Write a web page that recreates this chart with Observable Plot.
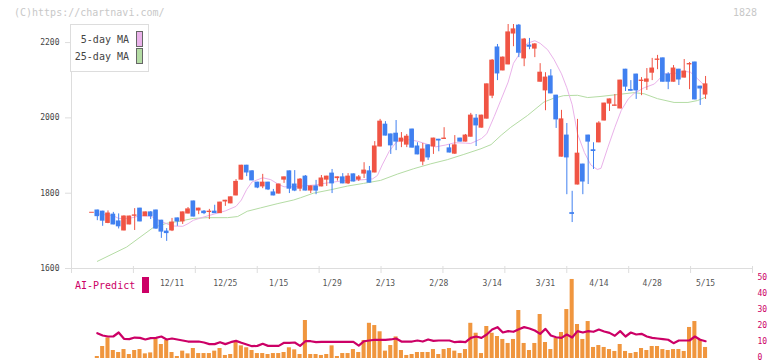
<!DOCTYPE html>
<html><head><meta charset="utf-8">
<script src="https://cdn.jsdelivr.net/npm/d3@7"></script>
<script src="https://cdn.jsdelivr.net/npm/@observablehq/plot@0.6"></script>
<style>
body{margin:0;background:#fff;}
#wrap{position:relative;width:772px;height:361px;overflow:hidden;font-family:"DejaVu Sans Mono",monospace;}
.abs{position:absolute;white-space:nowrap;}
</style></head><body><div id="wrap"></div>
<script>
// ---- data ----
const candleOpen  = [1748,1754,1751,1721,1743,1725,1701,1717,1740,1759,1739,1749,1754,1727,1698,1701,1733,1725,1746,1778,1754,1751,1750,1751,1747,1778,1773,1794,1836,1873,1858,1828,1818,1828,1802,1799,1836,1858,1823,1812,1844,1807,1818,1818,1836,1852,1840,1842,1826,1850,1836,1852,1858,1855,1924,1982,1956,1958,1937,1929,1969,1924,1884,1927,1924,1942,1944,1919,1905,1945,1937,1950,1998,1974,1998,2059,2187,2126,2142,2224,2245,2158,2192,2184,2096,2073,2110,2059,1897,1953,1747,1823,1876,1953,1914,1935,1993,2038,2032,2025,2128,2074,2115,2098,2096,2120,2154,2158,2115,2096,2128,2107,2142,2147,2083,2062];
const candleHigh  = [1748,1755,1752,1753,1749,1745,1740,1739,1759,1760,1750,1751,1755,1728,1706,1733,1734,1750,1762,1779,1760,1754,1757,1768,1776,1781,1790,1836,1874,1874,1860,1829,1850,1829,1810,1824,1843,1859,1860,1839,1847,1819,1834,1847,1845,1863,1843,1852,1852,1851,1847,1881,1871,1937,1996,1990,1957,1993,1961,1956,1970,1934,1932,1928,1946,1943,1974,1929,1953,1946,1956,2012,2009,2007,2090,2155,2195,2162,2248,2248,2248,2211,2211,2197,2144,2120,2128,2060,2020,1985,1805,1996,1877,1954,1934,1990,2039,2050,2062,2100,2129,2099,2116,2107,2131,2158,2166,2159,2120,2139,2129,2155,2147,2148,2084,2110];
const candleLow   = [1748,1727,1712,1719,1716,1705,1700,1716,1701,1724,1738,1730,1704,1680,1672,1698,1712,1717,1745,1737,1743,1743,1730,1746,1746,1765,1772,1793,1835,1844,1833,1812,1812,1807,1793,1798,1826,1799,1804,1804,1806,1799,1796,1817,1818,1799,1832,1825,1823,1830,1831,1839,1827,1854,1923,1952,1903,1913,1921,1921,1920,1902,1873,1887,1903,1910,1943,1907,1903,1936,1936,1949,1924,1973,1997,2051,2099,2125,2141,2189,2160,2136,2181,2160,2095,2019,2064,1972,1896,1796,1722,1822,1796,1823,1863,1934,1992,2017,2031,2024,2070,2071,2049,2059,2073,2099,2128,2095,2075,2095,2086,2106,2075,2048,2033,2049];
const candleClose = [1748,1739,1727,1746,1717,1712,1738,1738,1741,1725,1749,1739,1706,1698,1694,1722,1725,1749,1757,1738,1759,1747,1751,1747,1775,1780,1789,1830,1873,1855,1834,1815,1828,1810,1794,1823,1842,1812,1807,1836,1807,1818,1807,1839,1844,1826,1842,1826,1844,1831,1842,1860,1828,1924,1990,1953,1927,1937,1945,1950,1921,1903,1916,1895,1945,1940,1945,1908,1927,1937,1953,2006,1980,2006,2089,2152,2118,2160,2227,2235,2173,2208,2189,2195,2120,2107,2065,1996,1996,1895,1745,1905,1831,1937,1912,1985,2038,2049,2033,2099,2083,2072,2073,2099,2102,2131,2155,2096,2096,2131,2102,2123,2143,2049,2078,2089];
const volume = [0,1.25,7.5,12.9,5,3.75,5.6,2.5,5,5.6,2.9,3.5,11.9,8.75,11.25,3.75,1.25,4.6,2.9,6.25,3.1,3.1,3.1,4.6,6.25,1.9,2.5,10,7.9,6.7,5,3.1,3.1,2.5,3.1,3.1,3.75,6.7,5.4,2.5,23.75,2.5,2.5,1.9,2.5,7.9,1.25,3.1,3.1,5.6,3.75,11.25,22,20.6,16.7,4.6,8.1,13.5,5,1.9,2.5,3.75,3.75,3.75,5.6,2.5,5.6,6.25,4.6,3.1,5.6,22,15.8,3.1,20,15.8,13.75,11.9,9.4,11.9,30,9.4,5,9.4,27.5,10,5.6,12.5,16.25,30.6,49.4,21.25,11.9,23.1,6.9,8.1,6.9,5.6,4.4,8.75,4.4,3.1,3.75,6.25,5,7.5,7.5,5.6,5,5.6,5.6,4.4,19.4,23.1,11.9,6.9];
const aiPredict = [null,15.8,14.4,13.75,13.75,16.25,12.3,12.1,13.1,12.9,11.9,12.7,12.9,13.75,11.9,12.5,11.9,11.25,10.6,10.6,10.6,10,9,9,10.2,9,10.2,11,9.8,8.75,7.7,7.9,9.2,7.9,7.9,7.9,9.8,9.8,10,7.9,10.8,10.8,10.2,10.4,10.4,10.4,10.4,10.4,10.4,10.4,8.1,10.8,11.25,11.7,11.7,11.7,11.9,12.5,10.6,10.6,10.6,11.25,10.6,11.9,11,11.25,11.25,11.25,10.2,10.6,10.2,12.9,13.75,12.9,15,18.1,19.6,16.25,17.1,16.7,18.3,19.6,18.75,17.5,15.4,18.5,14.4,13.3,12.9,15,13.1,17.1,16.25,17.1,16.7,18.1,16.9,16,14.2,17.1,13.75,16.25,15,15.4,13.75,12.9,12.5,12.1,11.7,9.6,11.25,11.25,11.25,13.75,11.7,10.8];
const ma5Idx = [1,4,5,7,9,11,13,15,17,18,19,21,23,25,27,28,29,30,32,33.5,35,36,38,40,42,43.5,45,47,49,51,52.6,53.5,54.4,55.7,57,58,59.5,61,62.6,64.4,66.3,68,70,71,73,74,75.4,76.6,78,79,80.4,81.6,83,84,85.4,86.6,88,89,90,91,92.3,93.5,94.7,95.4,96.7,98,99.2,100.5,101.6,103.5,105.4,107.3,109.2,111,112.2,113.5,114.8,115];
const ma5    = [1745,1740,1733,1733,1740,1739,1725,1713,1712,1719,1728,1737,1745,1753,1765,1782,1810,1830,1841,1836,1823,1817,1817,1820,1822,1826,1829,1833,1834,1836,1838,1847,1875,1911,1935,1942,1942,1938,1931,1923,1928,1934,1933,1932,1945,1958,2004,2046,2095,2145,2176,2198,2205,2198,2181,2155,2117,2080,2035,1958,1908,1875,1863,1866,1922,1975,2020,2050,2065,2080,2090,2117,2118,2124,2121,2104,2086,2082];
const ma25Idx = [1,6.5,9,11.5,14,16.6,19,21.6,25.4,27.3,29.1,31.6,34.7,37.8,39.1,41.5,44.7,47.9,50.9,54.1,57.3,60.3,63.5,66.6,69.7,72.9,74.8,76.7,78.5,81.6,84.7,86.5,88.4,91,92.9,95.4,98.5,101.6,103.5,106,109.1,111.7,113.5,115];
const ma25    = [1619,1657,1683,1709,1720,1726,1733,1735,1735,1738,1752,1761,1772,1782,1788,1800,1809,1819,1826,1834,1851,1865,1878,1889,1903,1918,1929,1954,1975,2006,2042,2052,2059,2060,2054,2057,2062,2067,2064,2051,2041,2041,2046,2055];
const dateIdx    = [15,25,35,45,55,65,75,85,95,105,115];
const dateLabels = ["12/11","12/25","1/15","1/29","2/13","2/28","3/14","3/31","4/14","4/28","5/15"];
const priceTicks = [1600,1800,2000,2200];
const volTicks   = [0,10,20,30,40,50];

// ---- styling ----
const RED = "#f05444", BLUE = "#4080f0", PINK = "#eab2ea", GREEN = "#b4dca4";
const ORANGE = "#f0963e", CRIMSON = "#cc0066";
const xDomain = [-3.84, 123.8];
const FONT = "DejaVu Sans Mono, monospace";

const candles = candleOpen.map((o, i) => ({i, o, h: candleHigh[i], l: candleLow[i], c: candleClose[i], up: candleClose[i] >= o}));
const ups = candles.filter(d => d.up), downs = candles.filter(d => !d.up);
const ma5Data = ma5Idx.map((x, k) => ({x, y: ma5[k]}));
const ma25Data = ma25Idx.map((x, k) => ({x, y: ma25[k]}));
const volData = volume.map((v, i) => ({i, v}));
const aiData = aiPredict.map((v, i) => ({i, v})).filter(d => d.v != null);
const labelMap = new Map(dateIdx.map((d, k) => [d, dateLabels[k]]));
const frameTicks = d3.range(12).map(k => xDomain[0] + k * (xDomain[1] - xDomain[0]) / 11);

const bodyRect = (data, color) => Plot.rect(data, {
  x1: d => d.i - 0.44, x2: d => d.i + 0.44,
  y1: d => Math.min(d.o, d.c), y2: d => Math.max(d.o, d.c),
  fill: color, insetTop: -0.5, insetBottom: -0.5
});

const main = Plot.plot({
  width: 772, height: 292,
  marginLeft: 71, marginRight: 20, marginTop: 24, marginBottom: 24,
  x: {domain: xDomain, axis: null, label: null},
  y: {domain: [1600, 2248], axis: null, label: null},
  style: {background: "transparent", fontFamily: FONT, overflow: "visible"},
  marks: [
    Plot.ruleY([1600], {stroke: "#dddddd"}),
    Plot.ruleX([xDomain[0]], {stroke: "#dddddd"}),
    Plot.ruleX(frameTicks, {x: d => d, y1: 1600, y2: 1600, insetTop: -2, insetBottom: -5, stroke: "#dddddd"}),
    Plot.axisY({ticks: priceTicks, label: null, tickSize: 6, tickPadding: 6, stroke: "#dddddd", fill: "#444", fontSize: 8, tickFormat: d => String(d)}),
    Plot.axisX({ticks: dateIdx, label: null, tickSize: 0, tickPadding: 12, fill: "#555", fontSize: 8, tickFormat: d => labelMap.get(d)}),
    Plot.line(ma25Data, {x: "x", y: "y", stroke: GREEN, strokeWidth: 1}),
    Plot.line(ma5Data, {x: "x", y: "y", stroke: PINK, strokeWidth: 1}),
    Plot.ruleX(ups, {x: "i", y1: "l", y2: "h", stroke: RED, strokeWidth: 1}),
    Plot.ruleX(downs, {x: "i", y1: "l", y2: "h", stroke: BLUE, strokeWidth: 1}),
    bodyRect(ups, RED),
    bodyRect(downs, BLUE)
  ]
});

const lower = Plot.plot({
  width: 772, height: 91,
  marginLeft: 71, marginRight: 20, marginTop: 8, marginBottom: 3,
  x: {domain: xDomain, axis: null, label: null},
  y: {domain: [0, 50], axis: null, label: null},
  style: {background: "transparent", fontFamily: FONT, overflow: "visible"},
  marks: [
    Plot.rect(volData, {x1: d => d.i - 0.38, x2: d => d.i + 0.38, y1: 0, y2: "v", fill: ORANGE}),
    Plot.line(aiData, {x: "i", y: "v", stroke: CRIMSON, strokeWidth: 2.2, strokeLinejoin: "round"}),
    Plot.axisY({anchor: "right", ticks: volTicks, label: null, tickSize: 0, tickPadding: 5, dy: -1, fill: CRIMSON, fontSize: 8, tickFormat: d => String(d)})
  ]
});

const wrap = document.getElementById("wrap");
main.style.position = "absolute"; main.style.left = "0px"; main.style.top = "0px";
lower.style.position = "absolute"; lower.style.left = "0px"; lower.style.top = "270px";
wrap.appendChild(main);
wrap.appendChild(lower);

function addDiv(html, css) {
  const d = document.createElement("div");
  d.className = "abs";
  d.style.cssText += css;
  d.innerHTML = html;
  wrap.appendChild(d);
  return d;
}
addDiv("(C)https://chartnavi.com/", "left:14px;top:7px;font-size:10px;line-height:11px;color:#c8c8c8;");
addDiv("1828", "right:15px;top:7px;font-size:10px;line-height:11px;color:#c8c8c8;");
// legend
addDiv("", "left:70px;top:24px;width:77px;height:46px;border:1px solid #dddddd;background:#fff;");
addDiv("5-day MA", "left:70px;width:59px;top:34px;text-align:right;font-size:10px;line-height:12px;color:#444;");
addDiv("25-day MA", "left:70px;width:59px;top:51px;text-align:right;font-size:10px;line-height:12px;color:#444;");
addDiv("", "left:136px;top:31px;width:5px;height:14px;border:1px solid #666;background:" + PINK + ";");
addDiv("", "left:136px;top:48px;width:5px;height:14px;border:1px solid #666;background:" + GREEN + ";");
// AI-Predict label
addDiv("AI-Predict", "left:75px;top:280px;font-size:10px;line-height:12px;color:" + CRIMSON + ";");
addDiv("", "left:142px;top:277px;width:7px;height:16px;background:" + CRIMSON + ";");
</script></body></html>
